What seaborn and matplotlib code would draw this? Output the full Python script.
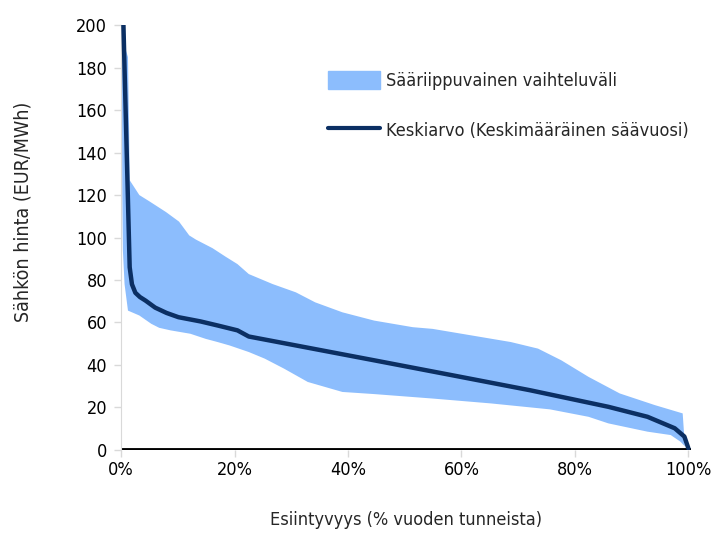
import matplotlib
matplotlib.use('Agg')
import matplotlib.pyplot as plt
import seaborn as sns
import pandas as pd
from matplotlib.ticker import FuncFormatter
from matplotlib.patches import Patch
from matplotlib.lines import Line2D

# mean curve (average weather year), % of hours vs EUR/MWh
mean_pct = [0.4, 0.9, 1.2, 1.5, 1.9, 2.5, 3.3, 4.3, 6.0, 8.0, 10.1, 14.0, 17.0, 20.5,
            22.5, 30.8, 44.6, 58.3, 72.1, 85.9, 92.8, 97.6, 99.3, 100.0]
mean_val = [200, 148, 117, 86, 78, 74, 72, 70.3, 67, 64.5, 62.5, 60.5, 58.6, 56.3,
            53.4, 49.2, 42.2, 35.2, 28.1, 20.3, 15.6, 10.2, 6.3, 0.8]

# weather dependent range, upper edge
upper_pct = [0.1, 0.6, 1.2, 1.4, 1.5, 3.2, 5.0, 7.9, 10.2, 12.0, 13.2, 16.1, 18.4, 20.5,
             22.5, 26.7, 30.8, 34.2, 39.0, 44.6, 51.4, 54.9, 61.8, 68.7, 73.5, 77.6,
             82.4, 87.9, 94.1, 99.0, 99.4, 100.0]
upper_val = [200, 190, 185, 150, 127, 120, 117, 112, 107.5, 101, 99, 95, 91, 87.5,
             82.8, 78.1, 74.2, 69.5, 64.8, 60.9, 57.8, 57.0, 53.9, 50.8, 47.7, 42.2,
             34.4, 26.6, 21.1, 17.2, 1.6, 0]

# weather dependent range, lower edge
lower_pct = [0.1, 0.2, 0.3, 0.6, 1.2, 3.2, 5.3, 6.7, 8.7, 12.2, 14.9, 17.0, 19.1, 22.5,
             25.3, 28.7, 32.9, 39.0, 44.6, 54.9, 65.2, 75.6, 82.4, 85.9, 92.8, 96.9,
             98.6, 100.0]
lower_val = [200, 120, 94, 78, 65.6, 63.3, 59.4, 57.5, 56.3, 54.7, 52.3, 50.8, 49.2, 46.1,
             43.0, 38.3, 32.0, 27.3, 26.3, 24.2, 21.9, 19.1, 15.6, 12.5, 8.6, 7.0,
             3.9, 0]

band_color = '#8cbdfd'
line_color = '#0b2f63'

sns.set_style('white')
plt.rcParams['font.family'] = ['DejaVu Sans']
plt.rcParams['font.stretch'] = 'condensed'

fig = plt.figure(figsize=(7.17, 5.35), dpi=100)
ax = fig.add_axes([0.169, 0.159, 0.795, 0.794])

# band polygon: upper edge forwards, lower edge backwards
ax.fill(upper_pct + lower_pct[::-1], upper_val + lower_val[::-1],
        color=band_color, linewidth=0, zorder=1)

df = pd.DataFrame({'pct': mean_pct, 'val': mean_val})
sns.lineplot(data=df, x='pct', y='val', color=line_color, linewidth=3.2,
             sort=False, ax=ax, zorder=3)

ax.axhline(0, color='black', linewidth=3.5, zorder=2)

ax.set_xlim(0, 100.5)
ax.set_ylim(0, 200)
ax.set_xticks(range(0, 101, 20))
ax.set_yticks(range(0, 201, 20))
ax.xaxis.set_major_formatter(FuncFormatter(lambda v, p: '{:d}%'.format(int(v))))

for s in ['top', 'right', 'bottom']:
    ax.spines[s].set_visible(False)
ax.spines['left'].set_color('#d9d9d9')
ax.tick_params(axis='both', length=5, color='#d9d9d9', width=1, labelsize=13,
               labelcolor='black', left=True, bottom=True)
ax.tick_params(axis='y', pad=5)
ax.tick_params(axis='x', pad=3)

ax.set_xlabel('Esiintyvyys (% vuoden tunneista)', fontsize=13)
ax.set_ylabel('Sähkön hinta (EUR/MWh)', fontsize=14)
ax.xaxis.set_label_coords(0.5, -0.143)
ax.yaxis.set_label_coords(-0.156, 0.56)

handles = [Patch(color=band_color, label='Sääriippuvainen vaihteluväli'),
           Line2D([0], [0], color=line_color, linewidth=3,
                  label='Keskiarvo (Keskimääräinen säävuosi)')]
ax.legend(handles=handles, loc='upper left', bbox_to_anchor=(0.335, 0.93),
          frameon=False, fontsize=13, handlelength=2.85, handleheight=1.15,
          handletextpad=0.35, labelspacing=1.7)

fig.savefig('out.png', dpi=100)
